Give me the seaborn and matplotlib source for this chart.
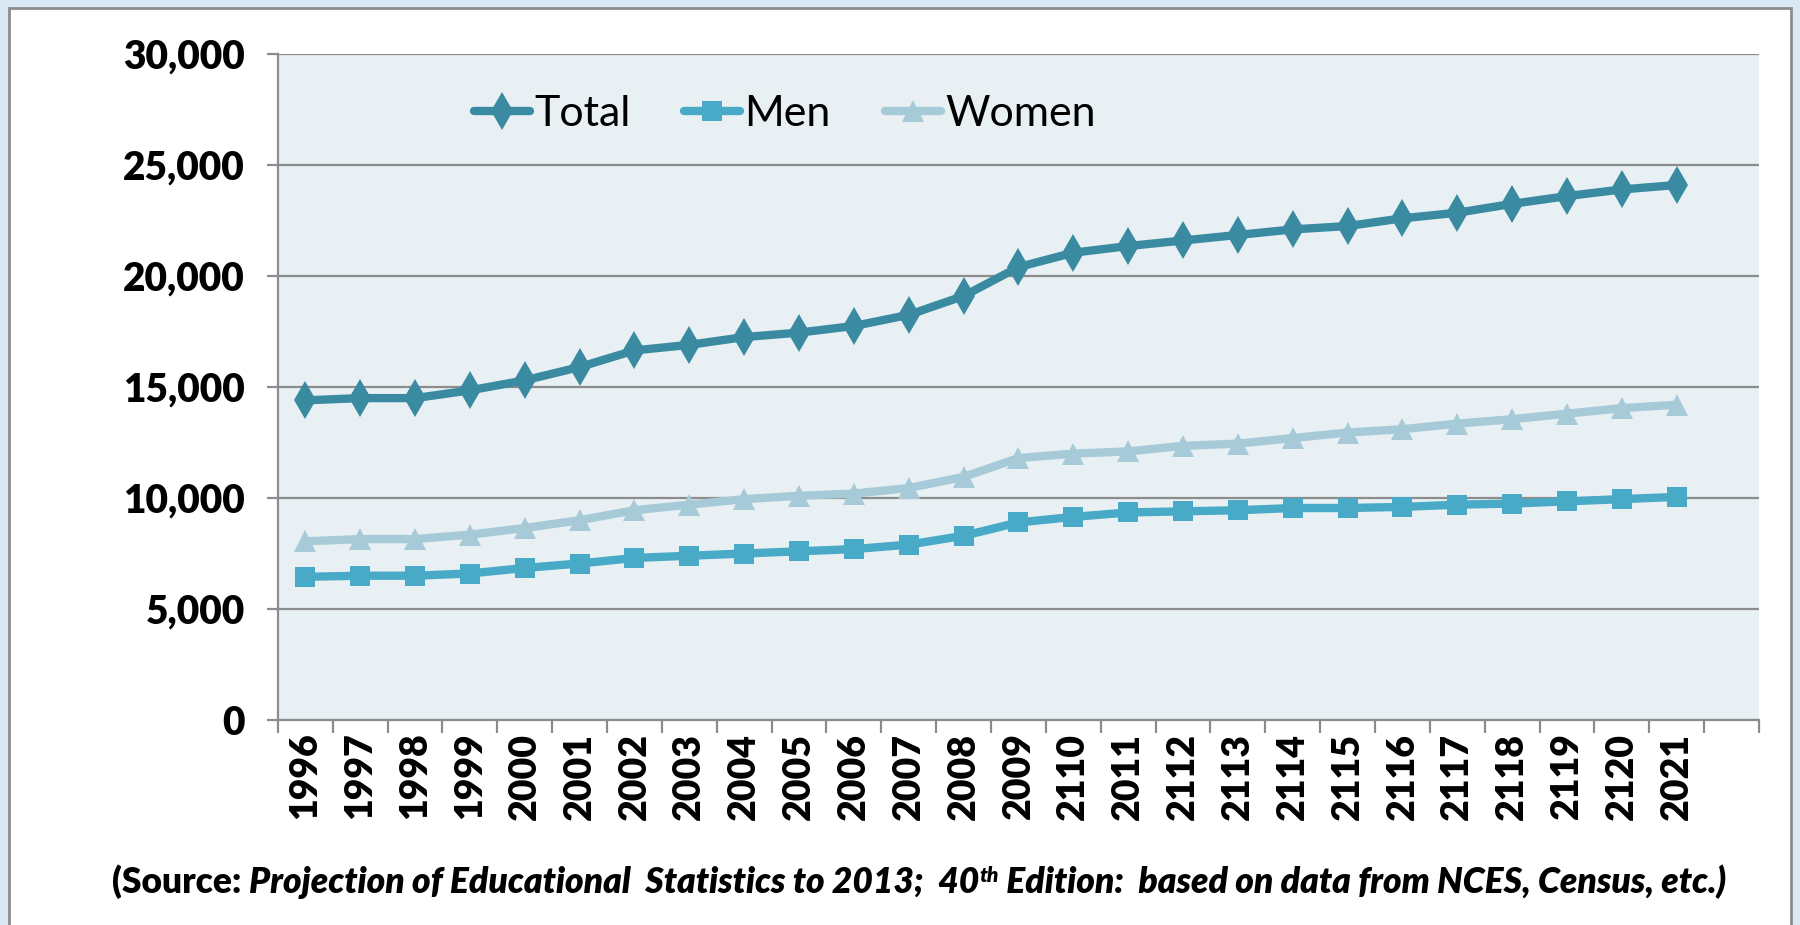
import numpy as np
import pandas as pd
import matplotlib
matplotlib.use("Agg")
import matplotlib.pyplot as plt
import seaborn as sns
from matplotlib.patches import Rectangle
from matplotlib.ticker import FuncFormatter, FixedLocator

years = ["1996", "1997", "1998", "1999", "2000", "2001", "2002", "2003", "2004",
         "2005", "2006", "2007", "2008", "2009", "2110", "2011", "2112", "2113",
         "2114", "2115", "2116", "2117", "2118", "2119", "2120", "2021"]
total = [14400, 14500, 14500, 14850, 15300, 15900, 16650, 16900, 17250, 17450,
         17750, 18250, 19100, 20400, 21050, 21350, 21600, 21850, 22100, 22250,
         22600, 22850, 23250, 23600, 23900, 24100]
men = [6450, 6500, 6500, 6600, 6850, 7050, 7300, 7400, 7500, 7600, 7700, 7900,
       8300, 8900, 9150, 9350, 9400, 9450, 9550, 9550, 9600, 9700, 9750, 9850,
       9950, 10050]
women = [8050, 8150, 8150, 8350, 8650, 9000, 9450, 9700, 9950, 10100, 10200,
         10450, 10950, 11800, 12000, 12100, 12350, 12450, 12700, 12950, 13100,
         13350, 13550, 13800, 14050, 14200]

sns.set_style("white")
plt.rcParams["font.family"] = ["Lato", "DejaVu Sans"]

fig = plt.figure(figsize=(18, 9.25), dpi=100, facecolor="#D9E8F5")
fig.patches.append(Rectangle((0.005, -0.02), 0.99, 1.011, transform=fig.transFigure,
                             facecolor="white", edgecolor="#8C8C8C", lw=2, zorder=-5))

ax = fig.add_axes([0.1544, 0.2216, 0.8228, 0.72])
ax.set_facecolor("#E8F0F4")
ax.set_zorder(2)

x = np.arange(len(years))
df = pd.DataFrame({"x": x, "Total": total, "Men": men, "Women": women})

series = [("Total", "#3A8BA2", "d", 19),
          ("Men", "#48AAC6", "s", 14),
          ("Women", "#A6CAD8", "^", 16)]
for name, col, mk, ms in series:
    sns.lineplot(data=df, x="x", y=name, ax=ax, color=col, lw=6, marker=mk,
                 markersize=ms, markeredgewidth=0, label=name, zorder=3)

ax.set_xlim(-0.5, len(years) + 0.5)
ax.set_ylim(0, 30000)
ax.set_yticks(np.arange(0, 30001, 5000))
ax.yaxis.set_major_formatter(FuncFormatter(lambda v, p: f"{int(v):,}"))
ax.grid(axis="y", color="#8C8C8C", lw=1.6, zorder=1)
ax.set_axisbelow(True)

ax.set_xticks(x)
ax.set_xticklabels(years, rotation=90, fontweight="heavy", fontsize=27, color="black")
ax.xaxis.set_minor_locator(FixedLocator(np.arange(-0.5, len(years) + 1, 1)))
ax.tick_params(axis="x", which="major", length=0, pad=9)
ax.tick_params(axis="x", which="minor", length=9, width=1.6, color="#8C8C8C",
               direction="out", bottom=True)
ax.tick_params(axis="y", length=8, width=1.6, color="#8C8C8C", direction="out",
               left=True, pad=16, labelsize=28, labelcolor="black")
for lab in ax.get_yticklabels():
    lab.set_fontweight("heavy")

ax.set_xlabel("")
ax.set_ylabel("")
for s in ["top", "right"]:
    ax.spines[s].set_visible(False)
for s in ["left", "bottom"]:
    ax.spines[s].set_color("#8C8C8C")
    ax.spines[s].set_linewidth(1.6)

ax.legend(loc="center left", bbox_to_anchor=(0.106, 0.91), ncol=3, frameon=False,
          fontsize=31, handlelength=1.3, handletextpad=0.1, columnspacing=1.25,
          labelcolor="black")

# source line, built from pieces
fig.canvas.draw()
r = fig.canvas.get_renderer()
pieces = [("(Source: ", "normal", 25.5, 0),
          ("Projection of Educational  Statistics to 2013;  40", "italic", 25.5, 0),
          ("th", "italic", 15, 11),
          (" Edition:  based on data from NCES, Census, etc.)", "italic", 25.5, 0)]
texts = []
for s, style, fs, dy in pieces:
    t = fig.text(0, 0.047, s, fontsize=fs, fontweight="heavy", fontstyle=style,
                 va="baseline", ha="left", color="black")
    texts.append((t, dy))
widths = [t.get_window_extent(r).width for t, _ in texts]
xpos = 919 - sum(widths) / 2
for (t, dy), w in zip(texts, widths):
    t.set_position((xpos / 1800, 0.035 + dy / 925))
    xpos += w

fig.savefig("out.png", dpi=100, facecolor=fig.get_facecolor())
